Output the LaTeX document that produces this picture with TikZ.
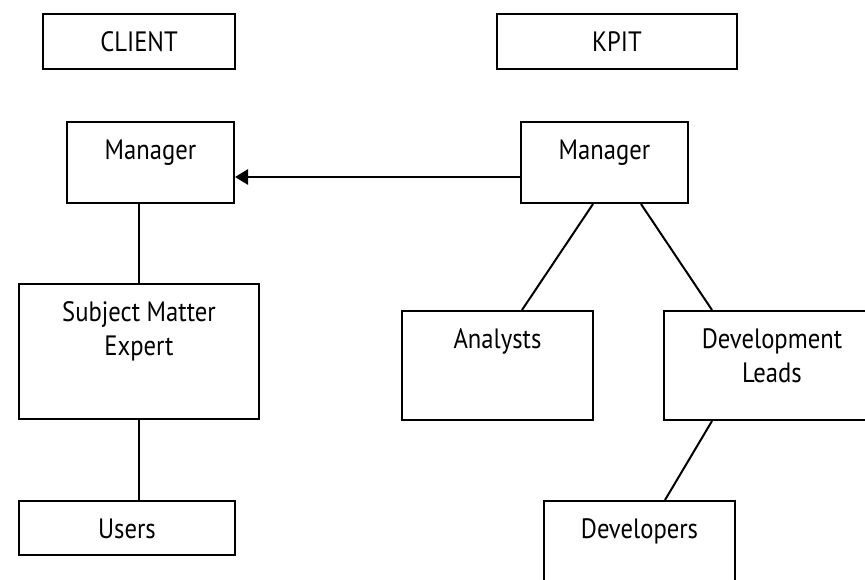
\documentclass[tikz,border=0pt]{standalone}
\usepackage{fontspec}
\setmainfont{PT Sans}[FakeStretch=0.88]
\usetikzlibrary{arrows.meta}

\begin{document}
\begin{tikzpicture}[x=1pt,y=-1pt,line width=2pt,
  box/.style={draw,rectangle,anchor=north west,align=center,inner xsep=0pt,
    inner ysep=17pt,text height=20pt,font=\fontsize{28}{34}\selectfont}]
  \useasboundingbox (0,0) rectangle (865,579);

  % The two sides.
  \node[box,minimum width=192pt,text depth=1pt] (client) at (42,13) {CLIENT};
  \node[box,minimum width=240pt,text depth=1pt] (kpit) at (496,13) {KPIT};

  % Client side: manager, expert, users.
  \node[box,minimum width=167pt,text depth=27pt] (mgrL) at (66,121) {Manager};
  \node[box,minimum width=240pt,text height=54pt,text depth=47pt] (sme) at (18,283) {Subject Matter\\Expert};
  \node[box,minimum width=216pt,text depth=0pt] (users) at (18,500) {Users};

  % KPIT side: manager, analysts, leads and developers.
  \node[box,minimum width=167pt,text depth=27pt] (mgrR) at (520,121) {Manager};
  \node[box,minimum width=191pt,text depth=55pt] (analysts) at (401,310) {Analysts};
  \node[box,minimum width=216pt,text height=54pt,text depth=21pt] (leads) at (663,310) {Development\\Leads};
  \node[box,minimum width=191pt,text depth=55pt] (devs) at (543,500) {Developers};

  % Connectors.
  \draw (sme.north) -- (sme.north |- mgrL.south);
  \draw (sme.south) -- (sme.south |- users.north);
  \draw ([xshift=-11.5pt]mgrR.south) -- ([xshift=24.5pt]analysts.north);
  \draw ([xshift=36.5pt]mgrR.south) -- ([xshift=-60pt]leads.north);
  \draw ([xshift=-60pt]leads.south) -- ([xshift=25.5pt]devs.north);

  % Manager to manager.
  \draw[line width=2.6pt,-{Triangle[length=13pt,width=15pt]}]
    ([yshift=-14.5pt]mgrR.west) -- ([yshift=-14.5pt]mgrL.east);
\end{tikzpicture}
\end{document}
